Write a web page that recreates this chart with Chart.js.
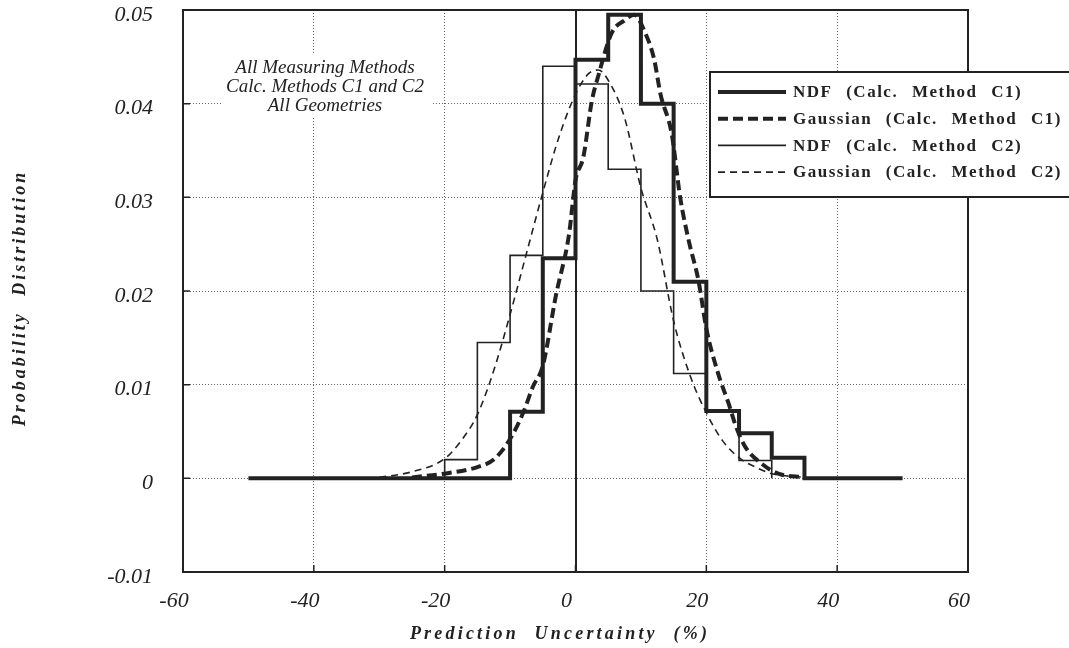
<!DOCTYPE html>
<html><head><meta charset="utf-8">
<script src="https://cdn.jsdelivr.net/npm/chart.js@4.4.1/dist/chart.umd.min.js"></script>
<style>html,body{margin:0;padding:0;background:#fff;}#wrap{width:1069px;height:648px;position:relative;}</style>
</head><body><div id="wrap"><canvas id="c" width="1069" height="648"></canvas></div>
<script>
// ---- data ----
const xTickLabels = ['-60', '-40', '-20', '0', '20', '40', '60'];
const yTickLabels = ['-0.01', '0', '0.01', '0.02', '0.03', '0.04', '0.05'];

// histogram (bin left edges, value held until next edge)
const ndfC1Edges  = [-50, -10, -5, 0, 5, 10, 15, 20, 25, 30, 35, 50];
const ndfC1Values = [0, 0.0071, 0.0235, 0.0447, 0.0495, 0.040, 0.021, 0.0072, 0.0048, 0.0022, 0, 0];
const ndfC2Edges  = [-20, -20, -15, -10, -5, 0, 5, 10, 15, 20, 25, 30];
const ndfC2Values = [0, 0.0020, 0.0145, 0.0238, 0.044, 0.0421, 0.033, 0.020, 0.0112, 0.0072, 0.0019, 0];

const gaussC1X = [-25, -20, -15, -12.5, -10, -8, -6.5, -5, -3, -1, 0, 1.2, 2.5, 3.5, 5.5, 7.5, 9, 10.5, 12, 13, 14.7, 16, 17.3, 18.8, 20, 21.8, 23.4, 24.6, 26, 28.4, 31, 35];
const gaussC1Y = [0.0001, 0.0005, 0.0012, 0.002, 0.0042, 0.007, 0.0098, 0.012, 0.0195, 0.026, 0.0318, 0.0343, 0.0403, 0.043, 0.0475, 0.0489, 0.0495, 0.0478, 0.0448, 0.041, 0.0368, 0.030, 0.0254, 0.0211, 0.016, 0.0112, 0.008, 0.0054, 0.0033, 0.0016, 0.0005, 0.0001];

const gaussC2X = [-30, -25, -20, -17.5, -15, -12.5, -10, -7.5, -5, -2.5, 0, 2, 3.5, 5, 7.5, 10, 12.5, 15, 17.5, 20, 22.5, 25, 27.5, 30, 35];
const gaussC2Y = [0.0001, 0.0007, 0.0021, 0.004, 0.0068, 0.0115, 0.0175, 0.024, 0.0305, 0.0365, 0.041, 0.0432, 0.0436, 0.0425, 0.0385, 0.031, 0.0255, 0.0168, 0.011, 0.007, 0.004, 0.0022, 0.0012, 0.0005, 0.0001];

const seriesLabels = ['NDF (Calc. Method C1)', 'Gaussian (Calc. Method C1)', 'NDF (Calc. Method C2)', 'Gaussian (Calc. Method C2)'];
const noteLines = ['All Measuring Methods', 'Calc. Methods C1 and C2', 'All Geometries'];
const xTitle = 'Prediction Uncertainty (%)';
const yTitle = 'Probability Distribution';

// ---- build ----
const pts = (xs, ys) => xs.map((x, i) => ({x: x, y: ys[i]}));
const INK = '#222';
const styles = [
  {w: 4, dash: []},
  {w: 4, dash: [10, 5]},
  {w: 1.6, dash: []},
  {w: 1.6, dash: [7, 5]}
];

const datasets = [
  {label: seriesLabels[0], data: pts(ndfC1Edges, ndfC1Values), stepped: 'before'},
  {label: seriesLabels[1], data: pts(gaussC1X, gaussC1Y), cubicInterpolationMode: 'monotone'},
  {label: seriesLabels[2], data: pts(ndfC2Edges, ndfC2Values), stepped: 'before'},
  {label: seriesLabels[3], data: pts(gaussC2X, gaussC2Y), cubicInterpolationMode: 'monotone'}
].map((d, i) => Object.assign(d, {
  borderColor: INK, borderWidth: styles[i].w, borderDash: styles[i].dash,
  pointRadius: 0, fill: false, borderCapStyle: 'butt', borderJoinStyle: 'miter'
}));

const serif = '"Liberation Serif", "DejaVu Serif", serif';

const decor = {
  id: 'decor',
  afterDraw(chart) {
    const {ctx, chartArea: a, scales} = chart;
    ctx.save();
    // frame
    ctx.strokeStyle = INK; ctx.lineWidth = 2; ctx.setLineDash([]);
    ctx.strokeRect(a.left, a.top, a.right - a.left, a.bottom - a.top);
    // inward tick marks
    ctx.lineWidth = 1.5;
    ctx.beginPath();
    scales.y.ticks.forEach(t => {
      const py = scales.y.getPixelForValue(t.value);
      ctx.moveTo(a.left, py); ctx.lineTo(a.left + 7, py);
    });
    scales.x.ticks.forEach(t => {
      const px = scales.x.getPixelForValue(t.value);
      ctx.moveTo(px, a.bottom); ctx.lineTo(px, a.bottom - 7);
    });
    ctx.stroke();

    // note block
    ctx.fillStyle = '#fff';
    ctx.fillRect(221, 54, 211, 64);
    ctx.fillStyle = INK;
    ctx.font = 'italic 19px ' + serif;
    ctx.textAlign = 'center'; ctx.textBaseline = 'middle';
    noteLines.forEach((t, i) => ctx.fillText(t, 325, 68 + i * 19));

    // legend
    ctx.fillStyle = '#fff';
    ctx.fillRect(710, 72, 380, 125);
    ctx.lineWidth = 2; ctx.strokeStyle = INK;
    ctx.strokeRect(710, 72, 380, 125);
    ctx.font = 'bold 17px ' + serif;
    ctx.textAlign = 'left';
    ctx.letterSpacing = '1.5px';
    ctx.wordSpacing = '8px';
    seriesLabels.forEach((t, i) => {
      const y = 92 + i * 26.7;
      ctx.beginPath();
      ctx.lineWidth = styles[i].w;
      ctx.setLineDash(styles[i].dash);
      ctx.moveTo(718, y); ctx.lineTo(786, y); ctx.stroke();
      ctx.setLineDash([]);
      ctx.fillStyle = INK;
      ctx.fillText(t, 793, y + 1);
    });

    // axis titles
    ctx.font = 'bold italic 18px ' + serif;
    ctx.letterSpacing = '3.2px';
    ctx.wordSpacing = '8px';
    ctx.textAlign = 'center';
    ctx.fillText(xTitle, 560, 634);
    ctx.translate(20, 298);
    ctx.rotate(-Math.PI / 2);
    ctx.letterSpacing = '3px';
    ctx.fillText(yTitle, 0, 0);
    ctx.restore();
  }
};

new Chart(document.getElementById('c'), {
  type: 'line',
  data: {datasets: datasets},
  plugins: [decor],
  options: {
    responsive: false, animation: false,
    layout: {padding: {top: 10, right: 101, left: 0, bottom: 0}},
    plugins: {legend: {display: false}, tooltip: {enabled: false}},
    scales: {
      x: {
        type: 'linear', min: -60, max: 60,
        afterFit: s => { s.height = 76; },
        ticks: {stepSize: 20, padding: 16, labelOffset: -9, color: INK,
          font: {family: serif, style: 'italic', size: 22},
          callback: (v, i) => xTickLabels[i]},
        grid: {drawTicks: false,
          color: c => (c.tick && c.tick.value === 0) ? INK : '#666',
          lineWidth: c => (c.tick && c.tick.value === 0) ? 2 : 1},
        border: {display: true, color: INK, width: 2,
          dash: c => (c.tick && c.tick.value === 0) ? [] : [1, 2]}
      },
      y: {
        type: 'linear', min: -0.01, max: 0.05,
        afterFit: s => { s.width = 183; s.paddingTop = 0; s.paddingBottom = 0; },
        ticks: {stepSize: 0.01, padding: 30, labelOffset: 5, color: INK,
          font: {family: serif, style: 'italic', size: 22},
          callback: (v, i) => yTickLabels[i]},
        grid: {drawTicks: false, color: '#666', lineWidth: 1},
        border: {display: true, color: INK, width: 2, dash: [1, 2]}
      }
    }
  }
});
</script></body></html>
